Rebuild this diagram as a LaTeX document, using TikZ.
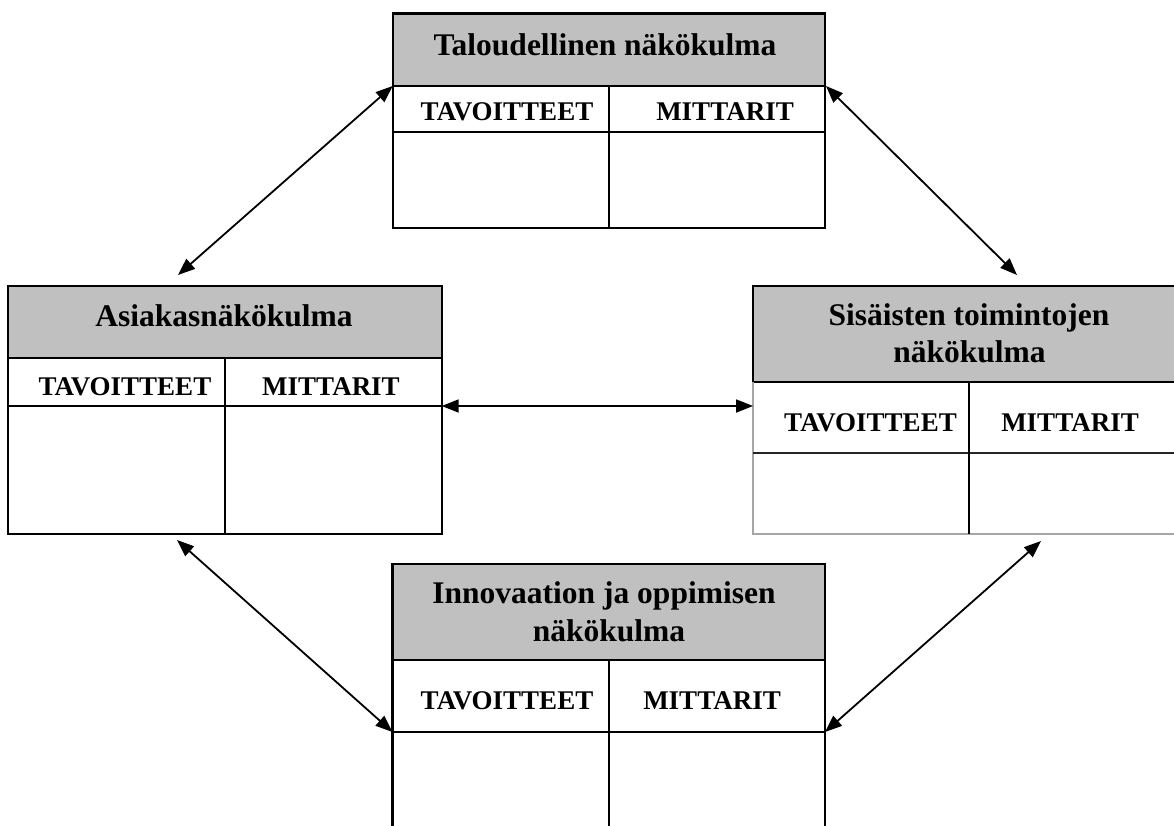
\documentclass[tikz,border=0pt]{standalone}
\usepackage{fontspec}
\setmainfont{Liberation Serif}
\usetikzlibrary{arrows.meta}
\definecolor{headgray}{HTML}{C0C0C0}
\definecolor{edgegray}{HTML}{A6A6A6}
\begin{document}
\begin{tikzpicture}[x=1pt,y=-1pt,
  rule/.style={line width=2.2pt,draw=black},
  softrule/.style={line width=2.2pt,draw=edgegray},
  headfill/.style={fill=headgray},
  headtext/.style={anchor=base,inner sep=0pt,font=\fontsize{31.5}{37}\selectfont\bfseries},
  coltext/.style={anchor=base,inner sep=0pt,font=\fontsize{27}{30}\selectfont\bfseries},
  link/.style={line width=1.8pt,{Triangle[length=17pt,width=13pt]}-{Triangle[length=17pt,width=13pt]}}]
\clip (0,0) rectangle (1174,825);
\fill[white] (0,0) rectangle (1174,825);

% ---------- Taloudellinen näkökulma (top) ----------
\coordinate (Tsw) at (392.7,86);
\coordinate (Tse) at (826,86);
\fill[headfill] (392.7,13.5) rectangle (825,86);
\draw[rule] (392.7,13.5) rectangle (825,228);
\draw[line width=3.2pt] (392.7,13.5) -- (825,13.5);
\draw[rule] (392.7,86) -- (825,86);
\draw[rule] (392.7,132) -- (825,132);
\draw[rule] (609,86) -- (609,228);
\node[headtext] (Th) at (605,55) {Taloudellinen näkökulma};
\node[coltext] (Tt) at (507,120) {TAVOITTEET};
\node[coltext] (Tm) at (725,120) {MITTARIT};

% ---------- Asiakasnäkökulma (left) ----------
\coordinate (Lne) at (441.7,406);
\fill[headfill] (8,285.7) rectangle (441.7,358);
\draw[rule] (8,285.7) rectangle (441.7,534);
\draw[rule] (8,358) -- (441.7,358);
\draw[rule] (8,406) -- (441.7,406);
\draw[rule] (225,358) -- (225,534);
\node[headtext] (Lh) at (224,326.7) {Asiakasnäkökulma};
\node[coltext] (Lt) at (125,395) {TAVOITTEET};
\node[coltext] (Lm) at (331,395) {MITTARIT};

% ---------- Sisäisten toimintojen näkökulma (right) ----------
\coordinate (Rw) at (753,406);
\fill[headfill] (753,285.7) rectangle (1180,381.7);
\draw[rule] (1180,285.7) -- (753,285.7) -- (753,381.7) -- (1180,381.7);
\draw[softrule] (753,381.7) -- (753,534) -- (1180,534);
\draw[line width=2.2pt,draw=black!85] (753,453) -- (1180,453);
\draw[rule] (969,381.7) -- (969,534);
\node[headtext] (Rh1) at (969,325) {Sisäisten toimintojen};
\node[headtext] (Rh2) at (969.5,362.5) {näkökulma};
\node[coltext] (Rt) at (870.5,431.7) {TAVOITTEET};
\node[coltext] (Rm) at (1070,431.7) {MITTARIT};

% ---------- Innovaation ja oppimisen näkökulma (bottom) ----------
\coordinate (Bw) at (392.5,732);
\coordinate (Be) at (825,732);
\fill[headfill] (392.5,564) rectangle (825,660);
\draw[rule] (392.5,840) -- (392.5,564) -- (825,564) -- (825,840);
\draw[rule] (392.5,660) -- (825,660);
\draw[rule] (392.5,732) -- (825,732);
\draw[rule] (609,660) -- (609,840);
\node[headtext] (Bh1) at (604,603.3) {Innovaation ja oppimisen};
\node[headtext] (Bh2) at (609,641.7) {näkökulma};
\node[coltext] (Bt) at (507,709.3) {TAVOITTEET};
\node[coltext] (Bm) at (712,709.3) {MITTARIT};

% ---------- links between the perspectives ----------
\coordinate (LtopEnd) at (178,275);
\coordinate (RtopEnd) at (1017,275);
\coordinate (LbotEnd) at (177,540);
\coordinate (RbotEnd) at (1041,541);
\draw[link] (Tsw) -- (LtopEnd);
\draw[link] (Tse) -- (RtopEnd);
\draw[link] (Lne) -- (Rw);
\draw[link] (LbotEnd) -- (Bw);
\draw[link] (RbotEnd) -- (Be);
\end{tikzpicture}
\end{document}
